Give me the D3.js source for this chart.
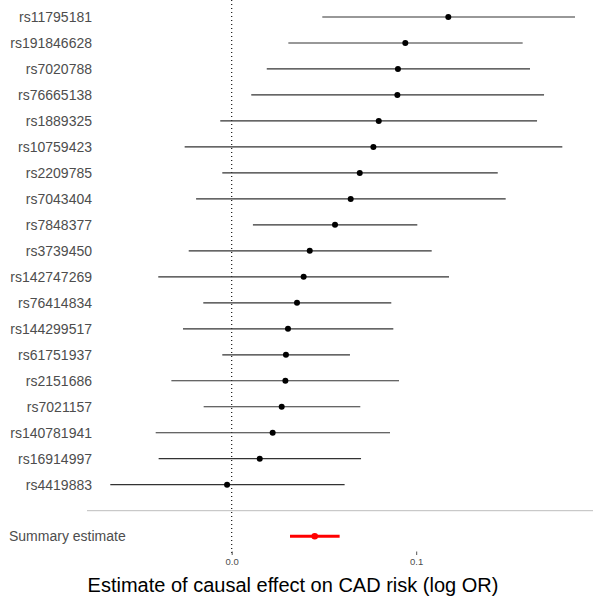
<!DOCTYPE html>
<html>
<head>
<meta charset="utf-8">
<script src="https://cdn.jsdelivr.net/npm/d3@7"></script>
<style>
  body { margin: 0; background: #fff; }
  text { font-family: "Liberation Sans", Arial, sans-serif; }
</style>
</head>
<body>
<div id="chart"></div>
<script>
// SNP labels, top to bottom
const snps = ['rs11795181', 'rs191846628', 'rs7020788', 'rs76665138', 'rs1889325',
  'rs10759423', 'rs2209785', 'rs7043404', 'rs7848377', 'rs3739450', 'rs142747269',
  'rs76414834', 'rs144299517', 'rs61751937', 'rs2151686', 'rs7021157',
  'rs140781941', 'rs16914997', 'rs4419883']

// estimate and interval ends, same order as snps
const est = [0.1174, 0.0941, 0.0901, 0.0898, 0.0797, 0.0768, 0.0694, 0.0645, 0.0560,
  0.0423, 0.0390, 0.0354, 0.0305, 0.0294, 0.0291, 0.0271, 0.0222, 0.0152, -0.0025]
const lower = [0.0491, 0.0307, 0.0190, 0.0106, -0.0062, -0.0255, -0.0051, -0.0193, 0.0115,
  -0.0233, -0.0398, -0.0154, -0.0264, -0.0051, -0.0327, -0.0152, -0.0412, -0.0396, -0.0658]
const upper = [0.1861, 0.1577, 0.1617, 0.1693, 0.1655, 0.1792, 0.1442, 0.1485, 0.1006,
  0.1084, 0.1178, 0.0865, 0.0876, 0.0641, 0.0907, 0.0697, 0.0858, 0.0701, 0.0612]

// summary estimate [lower, est, upper]
const summary = [0.0316, 0.0450, 0.0585]
const tickVals = [0.0, 0.1]

const width = 593
const height = 600

const svg = d3.select('#chart').append('svg')
  .attr('width', width)
  .attr('height', height)

const x = d3.scaleLinear().domain([0, 0.1]).range([231.7, 416.2])
const y = d3.scalePoint().domain(snps).range([17, 484.7])
const ySummary = 536.3

// vertical dotted reference at zero
svg.append('line')
  .attr('x1', x(0)).attr('x2', x(0))
  .attr('y1', 0).attr('y2', 554)
  .attr('stroke', '#000')
  .attr('stroke-width', 1.1)
  .attr('stroke-dasharray', '1,3')

// separator above summary
svg.append('line')
  .attr('x1', 87).attr('x2', width)
  .attr('y1', 510.7).attr('y2', 510.7)
  .attr('stroke', '#bdbdbd')
  .attr('stroke-width', 1)

const rows = snps.map((s, i) => ({name: s, est: est[i], lo: lower[i], hi: upper[i]}))

svg.selectAll('line.ci')
  .data(rows)
  .enter().append('line')
    .attr('class', 'ci')
    .attr('x1', d => x(d.lo))
    .attr('x2', d => x(d.hi))
    .attr('y1', d => y(d.name))
    .attr('y2', d => y(d.name))
    .attr('stroke', '#333')
    .attr('stroke-width', 1.2)

svg.selectAll('circle.pt')
  .data(rows)
  .enter().append('circle')
    .attr('class', 'pt')
    .attr('cx', d => x(d.est))
    .attr('cy', d => y(d.name))
    .attr('r', 3)
    .attr('fill', '#000')

svg.selectAll('text.lab')
  .data(rows)
  .enter().append('text')
    .attr('class', 'lab')
    .attr('x', 92)
    .attr('y', d => y(d.name))
    .attr('dy', '0.35em')
    .attr('text-anchor', 'end')
    .attr('fill', '#4d4d4d')
    .style('font-size', '14px')
    .text(d => d.name)

// summary row
svg.append('line')
  .attr('x1', x(summary[0])).attr('x2', x(summary[2]))
  .attr('y1', ySummary).attr('y2', ySummary)
  .attr('stroke', '#ff0000')
  .attr('stroke-width', 3)
svg.append('circle')
  .attr('cx', x(summary[1])).attr('cy', ySummary)
  .attr('r', 3.3)
  .attr('fill', '#ff0000')
svg.append('text')
  .attr('x', 9)
  .attr('y', ySummary)
  .attr('dy', '0.35em')
  .attr('fill', '#4d4d4d')
  .style('font-size', '14px')
  .text('Summary estimate')

// x axis
const axis = svg.append('g')
  .attr('transform', 'translate(0,551.5)')
  .call(d3.axisBottom(x).tickValues(tickVals).tickFormat(d3.format('.1f')).tickSize(3.5).tickPadding(3))
axis.select('.domain').remove()
axis.selectAll('line').attr('stroke', '#555')
axis.selectAll('text')
  .attr('fill', '#4d4d4d')
  .style('font-size', '9.5px')
  .style('font-family', '"Liberation Sans", Arial, sans-serif')

svg.append('text')
  .attr('x', 293)
  .attr('y', 591.5)
  .attr('text-anchor', 'middle')
  .attr('fill', '#000')
  .style('font-size', '20px')
  .text('Estimate of causal effect on CAD risk (log OR)')
</script>
</body>
</html>
